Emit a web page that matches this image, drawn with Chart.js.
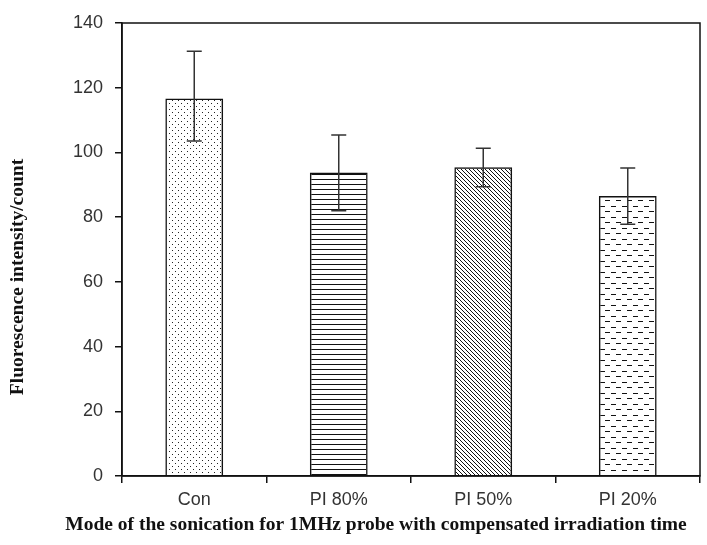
<!DOCTYPE html>
<html lang="en">
<head>
    <meta charset="UTF-8">
    <title>Fluorescence intensity</title>
    <style>
        body { margin: 0; background: white; }
        #chartBox { width: 707px; height: 545px; }
    </style>
</head>
<body>
    <div id="chartBox"><canvas id="barChart"></canvas></div>

    <script src="https://cdn.jsdelivr.net/npm/chart.js"></script>
    <script>
        const categories = ['Con', 'PI 80%', 'PI 50%', 'PI 20%'];
        const means = [116.7, 93.8, 95.4, 86.5];
        const errUpper = [131.3, 105.4, 101.3, 95.2];
        const errLower = [103.5, 82.0, 89.4, 77.8];
        const yTicks = [0, 20, 40, 60, 80, 100, 120, 140];
        const xTitle = 'Mode of the sonication for 1MHz probe with compensated irradiation time';
        const yTitle = 'Fluorescence intensity/count';

        // small canvases used as fill patterns
        function makePattern(w, h, draw) {
            const c = document.createElement('canvas');
            c.width = w; c.height = h;
            const g = c.getContext('2d');
            draw(g);
            return c;
        }
        const ctx = document.getElementById('barChart').getContext('2d');

        const dots = ctx.createPattern(makePattern(6, 6, g => {
            g.fillStyle = '#222';
            g.fillRect(1, 1, 1, 1);
            g.fillRect(4, 4, 1, 1);
        }), 'repeat');
        const hlines = ctx.createPattern(makePattern(4, 5, g => {
            g.fillStyle = '#111';
            g.fillRect(0, 4, 4, 1);
        }), 'repeat');
        const diag = ctx.createPattern(makePattern(4, 4, g => {
            g.fillStyle = '#111';
            for (let i = 0; i < 4; i++) g.fillRect(i, i, 1, 1);
        }), 'repeat');
        const dashes = ctx.createPattern(makePattern(11, 11, g => {
            g.fillStyle = '#111';
            g.fillRect(0, 2, 5, 1);
            g.fillRect(6, 8, 5, 1);
        }), 'repeat');

        const errorBars = {
            id: 'errorBars',
            afterDatasetsDraw(chart) {
                const c = chart.ctx;
                const xs = chart.scales.x, ys = chart.scales.y;
                c.save();
                c.strokeStyle = '#333';
                c.lineWidth = 1.5;
                categories.forEach((cat, i) => {
                    const x = xs.getPixelForValue(i);
                    const top = ys.getPixelForValue(errUpper[i]);
                    const bot = ys.getPixelForValue(errLower[i]);
                    c.beginPath();
                    c.moveTo(x, top); c.lineTo(x, bot);
                    c.moveTo(x - 7.5, top); c.lineTo(x + 7.5, top);
                    c.moveTo(x - 7.5, bot); c.lineTo(x + 7.5, bot);
                    c.stroke();
                });
                c.restore();
            }
        };

        // plot frame plus the two axis titles (placed off-centre like the original)
        const frame = {
            id: 'frame',
            afterDraw(chart) {
                const a = chart.chartArea, c = chart.ctx;
                c.save();
                c.strokeStyle = '#111';
                c.lineWidth = 1.5;
                c.strokeRect(a.left, a.top, a.right - a.left, a.bottom - a.top);

                c.fillStyle = '#111';
                c.font = 'bold 19.5px "Liberation Serif"';
                c.textAlign = 'center';
                c.textBaseline = 'middle';
                c.fillText(xTitle, 376, 525);

                c.translate(18, 277);
                c.rotate(-Math.PI / 2);
                c.fillText(yTitle, 0, 0);
                c.restore();
            }
        };

        new Chart(ctx, {
            type: 'bar',
            data: {
                labels: categories,
                datasets: [{
                    data: means,
                    backgroundColor: [dots, hlines, diag, dashes],
                    borderColor: '#111',
                    borderWidth: 1.5,
                    barPercentage: 0.4,
                    categoryPercentage: 1.0
                }]
            },
            options: {
                responsive: true,
                maintainAspectRatio: false,
                animation: false,
                layout: { padding: { top: 23, right: 7, left: 0, bottom: 0 } },
                plugins: { legend: { display: false }, tooltip: { enabled: false } },
                scales: {
                    x: {
                        grid: { drawOnChartArea: false, tickLength: 7, color: '#111', lineWidth: 1.5 },
                        border: { color: '#111', width: 1.5 },
                        ticks: { color: '#333', padding: 6, font: { family: 'Liberation Sans', size: 18 } },
                        afterFit(scale) { scale.height = 69; }
                    },
                    y: {
                        min: 0,
                        max: 140,
                        afterBuildTicks(scale) { scale.ticks = yTicks.map(v => ({ value: v })); },
                        grid: { drawOnChartArea: false, tickLength: 7, color: '#111', lineWidth: 1.5 },
                        border: { color: '#111', width: 1.5 },
                        ticks: { color: '#333', padding: 12, font: { family: 'Liberation Sans', size: 18 } },
                        afterFit(scale) { scale.width = 122; }
                    }
                }
            },
            plugins: [errorBars, frame]
        });
    </script>
</body>
</html>
